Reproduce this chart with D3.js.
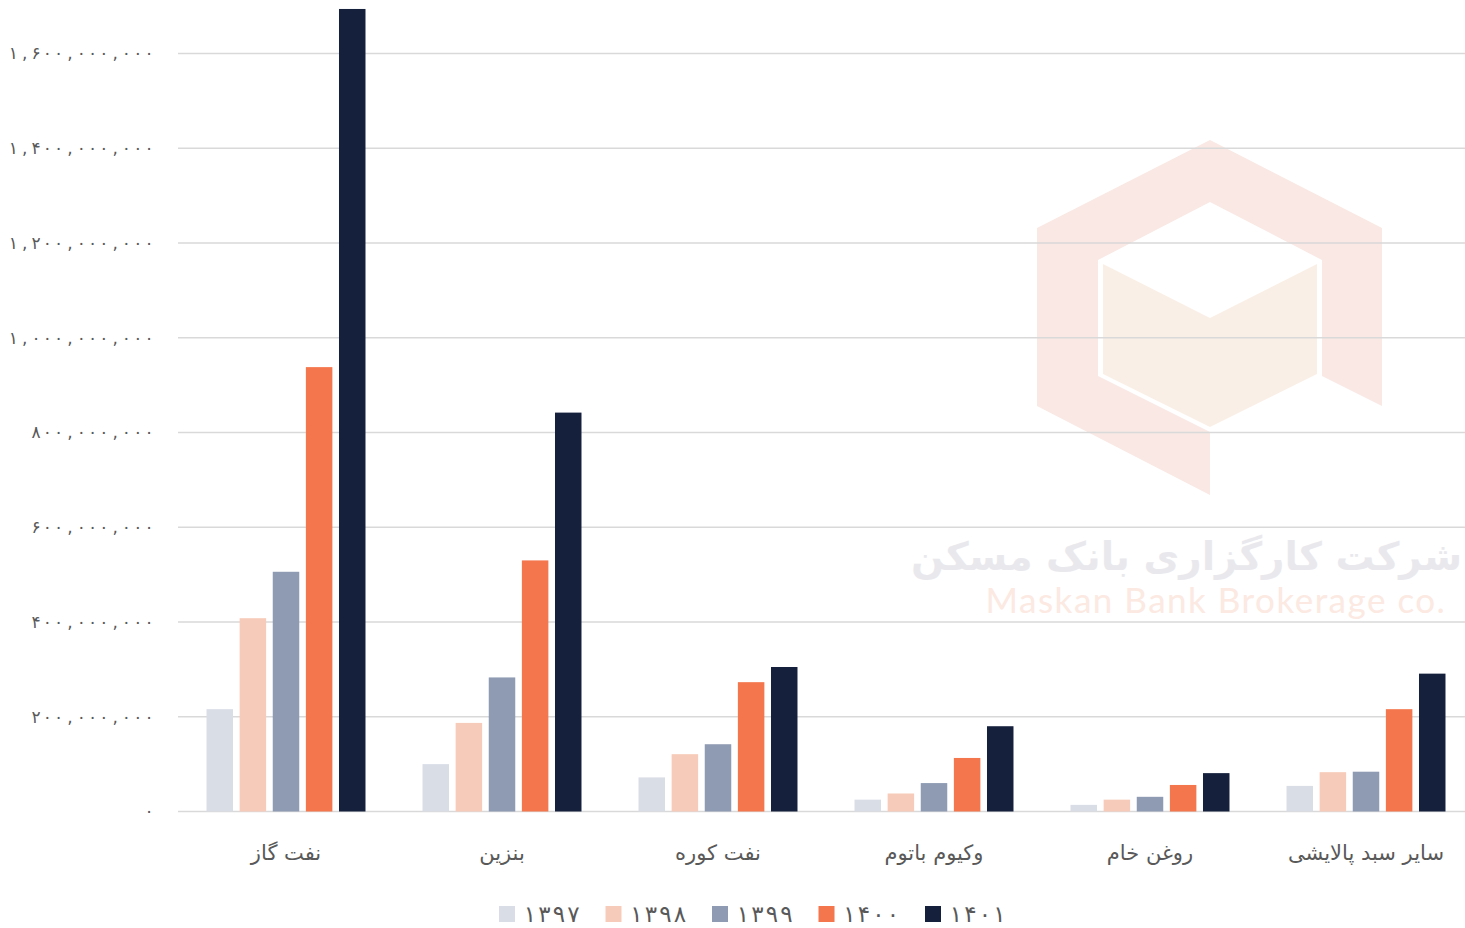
<!DOCTYPE html>
<html>
<head>
<meta charset="utf-8">
<script src="https://cdn.jsdelivr.net/npm/d3@7"></script>
<style>
  body { margin: 0; background: #fff; }
  svg { display: block; font-family: "DejaVu Sans", sans-serif; }
</style>
</head>
<body>
<svg width="1465" height="928"></svg>
<script>
// categories and series
const categories = ["نفت گاز", "بنزین", "نفت کوره", "وکیوم باتوم", "روغن خام", "سایر سبد پالایشی"];
const years = ["1397", "1398", "1399", "1400", "1401"];
const v1397 = [216e6, 100e6, 72e6, 25e6, 14e6, 54e6];
const v1398 = [408e6, 187e6, 121e6, 38e6, 25e6, 83e6];
const v1399 = [506e6, 283e6, 142e6, 60e6, 31e6, 84e6];
const v1400 = [938e6, 530e6, 273e6, 113e6, 56e6, 216e6];
const v1401 = [1694e6, 842e6, 305e6, 180e6, 81e6, 291e6];
const yTicks = [0, 200e6, 400e6, 600e6, 800e6, 1000e6, 1200e6, 1400e6, 1600e6];
const colors = ["#d9dde6", "#f7cbb9", "#8f9bb3", "#f4764d", "#15203d"];

const series = [v1397, v1398, v1399, v1400, v1401];

const svg = d3.select("svg");
const plotLeft = 178, plotRight = 1465;

const faDigits = "۰۱۲۳۴۵۶۷۸۹";
const toFa = s => String(s).replace(/\d/g, d => faDigits[+d]);

// letter-spacing is ignored for these digits, so each char gets its own tspan
function spacedChars(textSel, str, firstX, pitch) {
  Array.from(str).forEach((ch, i) => {
    textSel.append("tspan").attr("x", firstX + i * pitch).text(ch);
  });
}

const y = d3.scaleLinear().domain([0, 1600e6]).range([811.5, 53.5]);
const x0 = d3.scaleBand().domain(categories).range([plotLeft, 1474]).paddingInner(0.264).paddingOuter(0.132);
const x1 = d3.scaleBand().domain(years).range([0, x0.bandwidth()]).paddingInner(0.2);
const color = d3.scaleOrdinal().domain(years).range(colors);

// watermark logo (behind everything)
const wm = svg.append("g").attr("class", "watermark");
wm.append("polygon")
  .attr("points", "1210,140 1382,228 1382,406 1322,376 1322,260 1210,202 1098,260 1098,376 1210,432 1210,495 1037,406 1037,228")
  .attr("fill", "#f9e8e3");
wm.append("polygon")
  .attr("points", "1103,264 1210,318 1317,264 1317,374 1210,427 1103,374")
  .attr("fill", "#faefe6");
// rtl: "start" is the right edge
wm.append("text")
  .attr("x", 1462).attr("y", 570)
  .attr("text-anchor", "start")
  .attr("direction", "rtl")
  .attr("font-size", 39).attr("font-weight", "bold")
  .attr("fill", "#e9e9ed")
  .text("شرکت کارگزاری بانک مسکن");
wm.append("text")
  .attr("x", 1216).attr("y", 613)
  .attr("text-anchor", "middle")
  .attr("font-family", "Lato, sans-serif")
  .attr("font-size", 35)
  .attr("letter-spacing", 1.5)
  .attr("fill", "#fbe9e2")
  .text("Maskan Bank Brokerage co.");

// gridlines
svg.append("g")
  .selectAll("line")
  .data(yTicks)
  .join("line")
  .attr("x1", plotLeft).attr("x2", plotRight)
  .attr("y1", d => y(d)).attr("y2", d => y(d))
  .attr("stroke", "#d9d9d9")
  .attr("stroke-width", 1.5);

// y tick labels
const yPitch = 11.3;
svg.append("g")
  .selectAll("text")
  .data(yTicks)
  .join("text")
  .attr("y", d => y(d))
  .attr("dy", "0.35em")
  .attr("text-anchor", "middle")
  .attr("font-size", 17)
  .attr("fill", "#595959")
  .each(function(d) {
    const s = toFa(d3.format(",")(d));
    const n = Array.from(s).length;
    spacedChars(d3.select(this), s, 149 - (n - 1) * yPitch, yPitch);
  });

// bars
const groups = svg.append("g")
  .selectAll("g")
  .data(categories)
  .join("g")
  .attr("transform", d => `translate(${x0(d)},0)`);

groups.selectAll("rect")
  .data((d, i) => years.map((yr, j) => ({ year: yr, value: series[j][i] })))
  .join("rect")
  .attr("x", d => x1(d.year))
  .attr("y", d => y(d.value))
  .attr("width", x1.bandwidth())
  .attr("height", d => y(0) - y(d.value))
  .attr("fill", d => color(d.year));

// category labels
svg.append("g")
  .selectAll("text")
  .data(categories)
  .join("text")
  .attr("x", d => x0(d) + x0.bandwidth() / 2)
  .attr("y", 860)
  .attr("text-anchor", "middle")
  .attr("direction", "rtl")
  .attr("font-size", 21)
  .attr("fill", "#595959")
  .text(d => d);

// legend
const legend = svg.append("g")
  .selectAll("g")
  .data(years)
  .join("g")
  .attr("transform", (d, i) => `translate(${499 + i * 106.5},906)`);
legend.append("rect")
  .attr("width", 16).attr("height", 16)
  .attr("fill", d => color(d));
legend.append("text")
  .attr("y", 8)
  .attr("dy", "0.36em")
  .attr("text-anchor", "middle")
  .attr("font-size", 23)
  .attr("fill", "#595959")
  .each(function(d) {
    spacedChars(d3.select(this), toFa(d), 31, 14.5);
  });
</script>
</body>
</html>
